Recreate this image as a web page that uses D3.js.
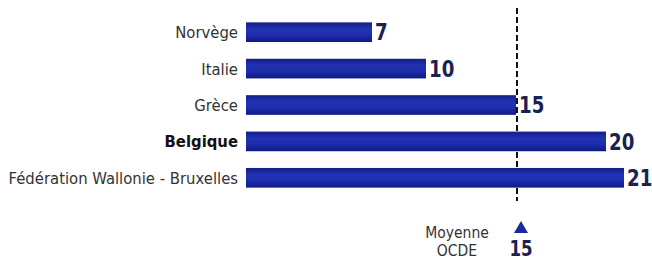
<!DOCTYPE html>
<html><head><meta charset="utf-8">
<script src="https://cdn.jsdelivr.net/npm/d3@7"></script>
<style>body{margin:0;background:#fff}svg{display:block}</style>
</head><body>
<svg id="c" width="652" height="263"></svg>
<script>
const categories = ["Norvège", "Italie", "Grèce", "Belgique", "Fédération Wallonie - Bruxelles"];
const values = [7, 10, 15, 20, 21];
const boldCategory = "Belgique";
const oecdAverage = 15;
const oecdLabel = ["Moyenne", "OCDE"];

const svg = d3.select("#c");
const x = d3.scaleLinear().domain([0, 21]).range([246, 624]);
const y = d3.scaleBand().domain(categories).range([14, 196]).paddingInner(0.46).paddingOuter(0.23);

const defs = svg.append("defs");
const g = defs.append("linearGradient").attr("id", "bg").attr("x1", 0).attr("x2", 0).attr("y1", 0).attr("y2", 1);
g.append("stop").attr("offset", "0%").attr("stop-color", "#121e86");
g.append("stop").attr("offset", "35%").attr("stop-color", "#2232b4");
g.append("stop").attr("offset", "65%").attr("stop-color", "#1e2dac");
g.append("stop").attr("offset", "100%").attr("stop-color", "#0e1a80");

const condensed = "'DejaVu Sans Condensed','Liberation Sans Narrow',sans-serif";

// dashed OECD line
svg.append("line")
  .attr("x1", x(oecdAverage) + 1).attr("x2", x(oecdAverage) + 1)
  .attr("y1", 8).attr("y2", 201)
  .attr("stroke", "#111").attr("stroke-width", 2)
  .attr("stroke-dasharray", "6,3");

const data = categories.map((c, i) => ({c, v: values[i]}));

svg.selectAll("rect.bar").data(data).join("rect")
  .attr("class", "bar")
  .attr("x", x(0)).attr("y", d => y(d.c))
  .attr("width", d => x(d.v) - x(0)).attr("height", y.bandwidth())
  .attr("fill", "url(#bg)");

svg.selectAll("text.cat").data(data).join("text")
  .attr("class", "cat")
  .attr("x", 238).attr("y", d => y(d.c) + y.bandwidth() / 2)
  .attr("dy", "0.36em")
  .attr("text-anchor", "end")
  .attr("font-family", condensed)
  .attr("font-size", 16.5)
  .attr("font-weight", d => d.c === boldCategory ? "bold" : "normal")
  .attr("fill", d => d.c === boldCategory ? "#111" : "#333")
  .text(d => d.c);

svg.selectAll("text.val").data(data).join("text")
  .attr("class", "val")
  .attr("transform", d => `translate(${x(d.v) + 3},${y(d.c) + y.bandwidth() / 2}) scale(0.88,1)`)
  .attr("dy", "0.36em")
  .attr("font-family", condensed)
  .attr("font-size", 23)
  .attr("font-weight", "bold")
  .attr("fill", "#1b2250")
  .text(d => d.v);

// OECD marker
const mx = x(oecdAverage) + 5;
svg.append("path")
  .attr("d", d3.symbol().type(d3.symbolTriangle).size(85)())
  .attr("transform", `translate(${mx},229)`)
  .attr("fill", "#1a2a9a");
svg.append("text")
  .attr("transform", `translate(${mx},256) scale(0.88,1)`)
  .attr("text-anchor", "middle")
  .attr("font-family", condensed)
  .attr("font-size", 21).attr("font-weight", "bold")
  .attr("fill", "#1b2250")
  .text(oecdAverage);
svg.selectAll("text.oecd").data(oecdLabel).join("text")
  .attr("class", "oecd")
  .attr("x", 457).attr("y", (d, i) => 238 + i * 18)
  .attr("text-anchor", "middle")
  .attr("font-family", condensed)
  .attr("font-size", 15.5)
  .attr("fill", "#333")
  .text(d => d);
</script>
</body></html>
